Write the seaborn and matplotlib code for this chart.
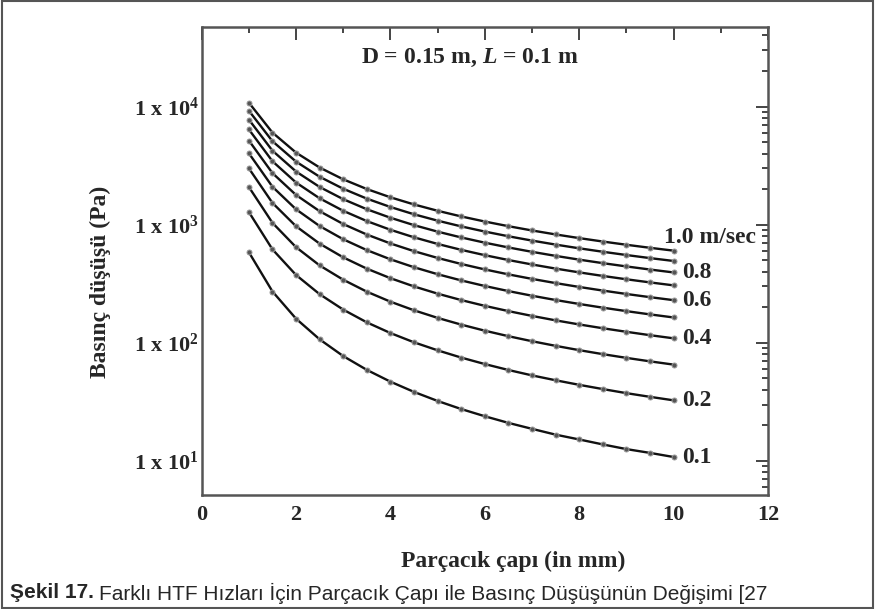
import numpy as np
import pandas as pd
import matplotlib
matplotlib.use("Agg")
import matplotlib.pyplot as plt
import seaborn as sns
from matplotlib.patches import Rectangle
from matplotlib.ticker import MultipleLocator, FixedLocator, LogLocator, NullFormatter

# particle diameter (mm), points every 0.5 mm
diameter = [1.0, 1.5, 2.0, 2.5, 3.0, 3.5, 4.0, 4.5, 5.0, 5.5,
            6.0, 6.5, 7.0, 7.5, 8.0, 8.5, 9.0, 9.5, 10.0]

# pressure drop (Pa), one list per HTF velocity (m/s)
dp_v01 = [585, 272, 160, 107, 77.2, 59.0, 46.9, 38.4, 32.2, 27.5,
          23.9, 21.0, 18.7, 16.7, 15.2, 13.8, 12.6, 11.7, 10.8]
dp_v02 = [1280, 618, 375, 258, 191, 149, 121, 101, 86.4, 75.0,
          66.1, 58.9, 53.0, 48.2, 44.1, 40.6, 37.5, 34.9, 32.6]
dp_v03 = [2085, 1037, 645, 452, 342, 271, 223, 188.5, 162.6, 142.6,
          126.7, 113.8, 103.2, 94.3, 86.7, 80.2, 74.6, 69.7, 65.4]
dp_v04 = [3000, 1529, 970, 691, 529, 424.5, 352.5, 300.2, 260.8, 230.1,
          205.6, 185.6, 169, 155, 143.1, 132.9, 124, 116.1, 109.2]
dp_v05 = [4025, 2095, 1350, 974, 752.8, 609.3, 509.4, 436.4, 381, 337.6,
          302.8, 274.2, 250.5, 230.4, 213.3, 198.5, 185.5, 174.1, 164]
dp_v06 = [5160, 2734, 1785, 1301, 1013, 825.3, 693.8, 597, 523.2, 465.1,
          418.3, 379.8, 347.8, 320.5, 297.2, 277, 259.2, 243.6, 229.8]
dp_v07 = [6405, 3446, 2275, 1672, 1311, 1073, 905.7, 782, 687.4, 612.6,
          552.2, 502.4, 460.7, 425.2, 394.9, 368.5, 345.2, 324.8, 306.6]
dp_v08 = [7760, 4232, 2820, 2086, 1644.5, 1351.6, 1145, 991.5, 873.6, 780.2,
          704.5, 641.9, 589.5, 544.7, 506.2, 472.8, 443.4, 417.5, 394.4]
dp_v09 = [9225, 5090, 3420, 2545, 2015, 1662, 1412, 1225, 1082, 967.7,
          875, 798.3, 733.8, 678.8, 631.4, 590.3, 553.9, 521.7, 493.2]
dp_v10 = [10800, 6023, 4075, 3048, 2422, 2004, 1706, 1484, 1312, 1175,
          1064, 971.6, 893.9, 827.5, 770.3, 720.5, 676.5, 637.6, 603]

velocities = ["0.1", "0.2", "0.3", "0.4", "0.5", "0.6", "0.7", "0.8", "0.9", "1.0"]
series = [dp_v01, dp_v02, dp_v03, dp_v04, dp_v05, dp_v06, dp_v07, dp_v08, dp_v09, dp_v10]

# curves that carry a label at their right end
end_labels = {"0.1": "0.1", "0.2": "0.2", "0.4": "0.4", "0.6": "0.6", "0.8": "0.8"}

ytick_vals = [10, 100, 1000, 10000]
ytick_labels = ["1 x 10$^{1}$", "1 x 10$^{2}$", "1 x 10$^{3}$", "1 x 10$^{4}$"]

df = pd.DataFrame({
    "d": np.tile(diameter, len(velocities)),
    "dp": np.concatenate(series),
    "V": np.repeat(velocities, len(diameter)),
})

sns.set_style("white")
plt.rcParams["font.family"] = ["Liberation Serif", "DejaVu Serif"]
plt.rcParams["mathtext.fontset"] = "custom"
plt.rcParams["mathtext.rm"] = "Liberation Serif:bold"
plt.rcParams["mathtext.bf"] = "Liberation Serif:bold"
plt.rcParams["mathtext.it"] = "Liberation Serif:bold:italic"
plt.rcParams["mathtext.default"] = "rm"

fig = plt.figure(figsize=(8.75, 6.09), dpi=100)
ax = fig.add_axes([0.2305, 0.1872, 0.6472, 0.769])

for v in velocities:
    sub = df[df["V"] == v]
    sns.lineplot(data=sub, x="d", y="dp", ax=ax, color="#111111", lw=1.7,
                 marker="o", markersize=3.6, mfc="#555555", mec="#9a9a9a",
                 mew=0.7, legend=False)

ax.set_yscale("log")
ax.set_xlim(0, 12)
ax.set_ylim(5.15, 47500)

ax.xaxis.set_major_locator(MultipleLocator(2))
ax.xaxis.set_minor_locator(MultipleLocator(1))
ax.yaxis.set_major_locator(FixedLocator(ytick_vals))
ax.yaxis.set_minor_locator(LogLocator(base=10, subs=np.arange(2, 10), numticks=20))
ax.yaxis.set_minor_formatter(NullFormatter())
ax.set_yticks(ytick_vals)
ax.set_yticklabels(ytick_labels)

ax.tick_params(which="both", direction="in", top=True, right=True,
               color="#444444", width=1.4)
ax.tick_params(which="major", length=9)
ax.tick_params(which="minor", length=4.5)
ax.tick_params(axis="x", pad=7, labelsize=16)
ax.tick_params(axis="y", pad=2, labelsize=16)
for lab in ax.get_xticklabels() + ax.get_yticklabels():
    lab.set_fontweight("bold")

for sp in ax.spines.values():
    sp.set_color("#555555")
    sp.set_linewidth(1.8)

ax.set_xlabel("Parçacık çapı (in mm)", fontsize=17, fontweight="bold", va="center")
ax.xaxis.set_label_coords(0.55, -0.141)
ax.set_ylabel("Basınç düşüşü (Pa)", fontsize=17, fontweight="bold", va="center")
ax.yaxis.set_label_coords(-0.178, 0.455)

ax.text(0.474, 0.933, "D = 0.15 m, $\\mathit{L}$ = 0.1 m", transform=ax.transAxes,
        ha="center", va="center", fontsize=17, fontweight="bold")

# curve labels at the right end
for v, dp in zip(velocities, series):
    if v in end_labels:
        ax.text(10.17, dp[-1], end_labels[v], ha="left", va="center",
                fontsize=17, fontweight="bold")
ax.text(9.8, 778, "1.0 m/sec", ha="left", va="center", fontsize=17, fontweight="bold")

# caption below the chart
cap_font = ["Liberation Sans Narrow", "Liberation Sans", "DejaVu Sans"]
t1 = fig.text(10 / 875, 0.0263, "Şekil 17.", ha="left", va="center",
              fontsize=15, fontweight="bold", family=cap_font)
fig.canvas.draw()
bb = t1.get_window_extent(renderer=fig.canvas.get_renderer())
fig.text((bb.x1 + 5) / fig.bbox.width, 0.0263,
         "Farklı HTF Hızları İçin Parçacık Çapı ile Basınç Düşüşünün Değişimi [27",
         ha="left", va="center", fontsize=15, family=cap_font)

fig.add_artist(Rectangle((0.002, 0.002), 0.996, 0.996, transform=fig.transFigure,
                         fill=False, lw=1.5, ec="#555555"))

fig.savefig("out.png", dpi=100)
